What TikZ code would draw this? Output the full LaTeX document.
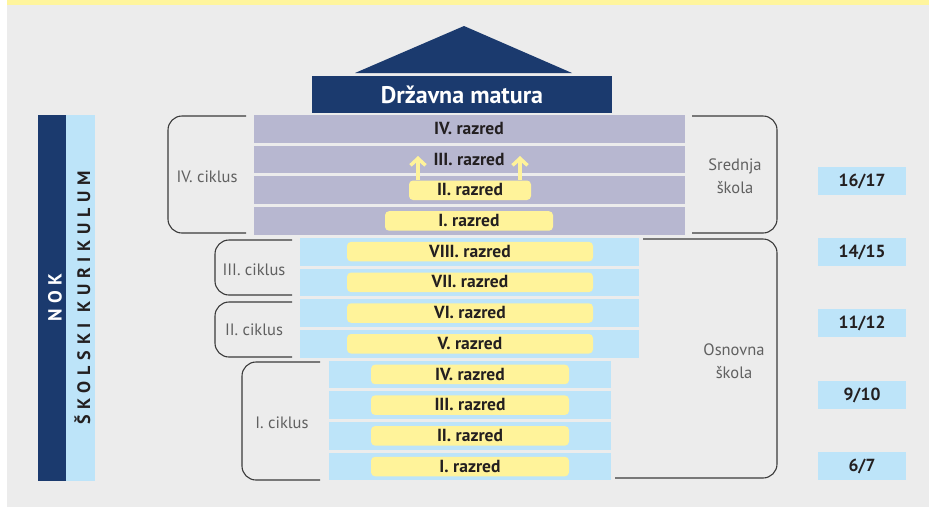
\documentclass[tikz,border=0pt]{standalone}
\usepackage{fontspec}
\setmainfont{PT Sans}
\usetikzlibrary{arrows.meta}
\definecolor{bgc}{HTML}{ECECEC}
\definecolor{ystrip}{HTML}{FFF59D}
\definecolor{navy}{HTML}{1B3A6E}
\definecolor{lav}{HTML}{B7B7D0}
\definecolor{lblue}{HTML}{BDE4F9}
\definecolor{pillc}{HTML}{FFF39A}
\definecolor{dtext}{HTML}{231F20}
\definecolor{gtext}{HTML}{606060}
\definecolor{brkc}{HTML}{3A3A3A}
\begin{document}
\begin{tikzpicture}[x=1pt,y=-1pt,
  bar/.style={inner sep=0pt, minimum height=27.7pt},
  lavbar/.style={bar, fill=lav, minimum width=431pt},
  ubar/.style={bar, fill=lblue, minimum width=339pt},
  lbar/.style={bar, fill=lblue, minimum width=282pt},
  rtext/.style={text=dtext, font=\bfseries\fontsize{17.5}{19}\selectfont, inner sep=0pt, text depth=1pt},
  pill/.style={rtext, fill=pillc, rounded corners=4pt, minimum height=19.5pt},
  brk/.style={draw=brkc, line width=1.1pt, rounded corners=14pt},
  ctext/.style={text=gtext, font=\fontsize{16.5}{23}\selectfont, align=center, inner sep=0pt},
  ageb/.style={fill=lblue, minimum width=88pt, minimum height=28pt, inner sep=0pt, text=dtext, font=\bfseries\fontsize{17.5}{19}\selectfont},
  yarrow/.style={draw=pillc, line width=3.5pt, -{Straight Barb[length=7pt,width=15pt]}}
]
\useasboundingbox (0,0) rectangle (929,507);
\fill[white] (0,0) rectangle (929,507);
\fill[bgc] (7,0) rectangle (929,507);
\fill[ystrip] (7,0) rectangle (929,5);

% roof
\fill[navy] (355,73) -- (464,26) -- (572,73) -- cycle;
\node[fill=navy, minimum width=300pt, minimum height=37pt, inner sep=0pt, text=white,
  font=\bfseries\fontsize{24}{26}\selectfont] (dm) at (462,94.5) {Državna matura};

% left bar
\node[fill=navy, minimum width=28pt, minimum height=366pt, inner sep=0pt] (nokbar) at (52,298) {};
\node[fill=lblue, minimum width=29pt, minimum height=366pt, inner sep=0pt] (skbar) at (80.5,298) {};
\node[rotate=90, anchor=base, inner sep=0pt, text=white, font=\bfseries\fontsize{19}{20}\selectfont\addfontfeature{LetterSpace=30}] (nok) at (61.5,297.5) {NOK};
\node[rotate=90, anchor=base, inner sep=0pt, text=dtext, font=\bfseries\fontsize{18}{20}\selectfont\addfontfeature{LetterSpace=32}] (sk) at (90,297.5) {ŠKOLSKI KURIKULUM};

% bars
\foreach \k in {0,...,3} \node[lavbar] (r\k) at (469.5,{115+30.7*\k+13.85}) {};
\foreach \k in {4,...,7} \node[ubar] (r\k) at (469.5,{115+30.7*\k+13.85}) {};
\foreach \k in {8,...,11} \node[lbar] (r\k) at (470,{115+30.7*\k+13.85}) {};

% labels
\node[rtext] (l0) at (r0.center -| 469,0) {IV. razred};
\node[rtext] (l1) at (r1.center -| 469,0) {III. razred};
\node[pill, minimum width=122pt] (l2) at (r2.center -| 470,0) {II. razred};
\node[pill, minimum width=168pt] (l3) at (r3.center -| 469,0) {I. razred};
\foreach \k/\t in {4/VIII, 5/VII, 6/VI, 7/V}
  \node[pill, minimum width=246pt] (l\k) at (r\k.center -| 470,0) {\t. razred};
\foreach \k/\t in {8/IV, 9/III, 10/II, 11/I}
  \node[pill, minimum width=198pt] (l\k) at (r\k.center -| 470,0) {\t. razred};

% arrows
\coordinate (a1) at (418,156);
\coordinate (a2) at (520,156);
\draw[yarrow] (l2.north -| a1) -- (a1);
\draw[yarrow] (l2.north -| a2) -- (a2);

% brackets
\draw[brk] (246,116) -- (168,116) -- (168,233) -- (246,233);
\draw[brk] (292,240) -- (215,240) -- (215,295) -- (292,295);
\draw[brk] (292,302) -- (215,302) -- (215,357) -- (292,357);
\draw[brk] (320,362) -- (242,362) -- (242,480) -- (320,480);
\draw[brk] (692,116) -- (777,116) -- (777,233) -- (692,233);
\draw[brk] (643,239) -- (777,239) -- (777,478) -- (615,478);

\node[ctext] (c4) at (207,177) {IV. ciklus};
\node[ctext] (c3) at (254,270) {III. ciklus};
\node[ctext] (c2) at (254,330) {II. ciklus};
\node[ctext] (c1) at (282,423) {I. ciklus};
\node[ctext] (ss) at (735,176) {Srednja\\škola};
\node[ctext] (os) at (734,361) {Osnovna\\škola};

% ages
\node[ageb] (g1) at (862,181) {16/17};
\node[ageb] (g2) at (862,252) {14/15};
\node[ageb] (g3) at (862,323) {11/12};
\node[ageb] (g4) at (862,395) {9/10};
\node[ageb] (g5) at (862,466) {6/7};
\end{tikzpicture}
\end{document}
